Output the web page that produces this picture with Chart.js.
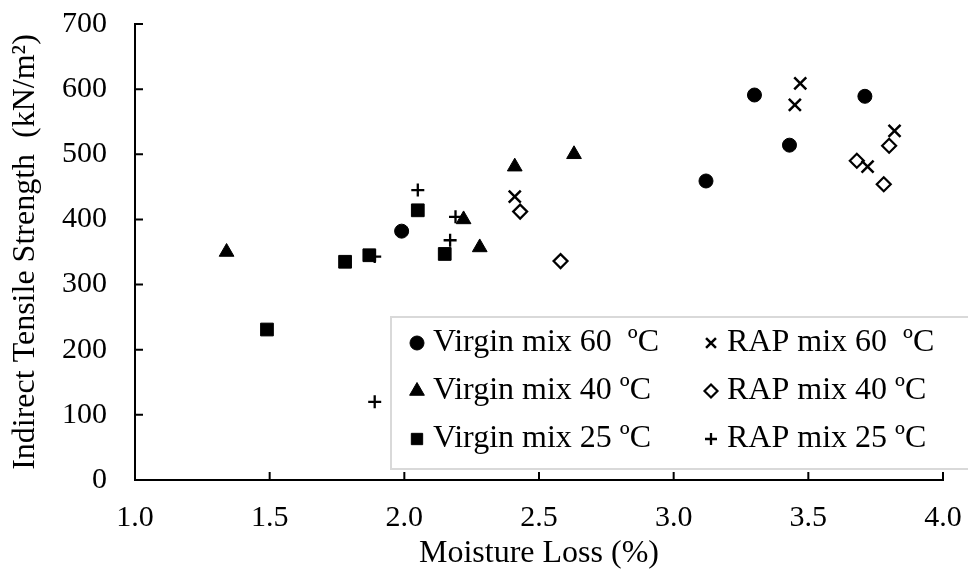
<!DOCTYPE html>
<html>
<head>
<meta charset="utf-8">
<script src="https://cdn.jsdelivr.net/npm/chart.js@4.4.0/dist/chart.umd.min.js"></script>
<style>
  html, body { margin: 0; padding: 0; background: #fff; }
  #wrap { width: 968px; height: 573px; }
</style>
</head>
<body>
<div id="wrap"><canvas id="itsChart" width="968" height="573"></canvas></div>
<script>
// moisture loss (%) against indirect tensile strength, per mix and temperature
const virgin60X = [1.99, 3.12, 3.30, 3.43, 3.71];
const virgin60Y = [382, 459, 591, 514, 589];
const virgin40X = [1.34, 2.22, 2.28, 2.41, 2.63];
const virgin40Y = [350, 400, 357, 481, 500];
const virgin25X = [1.49, 1.78, 1.87, 2.05, 2.15];
const virgin25Y = [231, 335, 345, 414, 347];
const rap60X = [2.41, 3.45, 3.47, 3.72, 3.82];
const rap60Y = [435, 576, 609, 481, 536];
const rap40X = [2.43, 2.58, 3.68, 3.78, 3.80];
const rap40Y = [412, 336, 490, 454, 513];
const rap25X = [1.89, 1.89, 2.05, 2.17, 2.19];
const rap25Y = [120, 343, 445, 368, 404];

const xTicks = [1.0, 1.5, 2.0, 2.5, 3.0, 3.5, 4.0];
const yTicks = [0, 100, 200, 300, 400, 500, 600, 700];

const seriesLabels = [
    'Virgin mix 60  ºC', 'Virgin mix 40 ºC', 'Virgin mix 25 ºC',
    'RAP mix 60  ºC', 'RAP mix 40 ºC', 'RAP mix 25 ºC'
];

const SERIF = '"Liberation Serif", "Times New Roman", serif';

function pairs(xs, ys) {
    return xs.map((x, i) => ({ x: x, y: ys[i] }));
}

// marker look for each series: [style, radius, fill, lineWidth, legend radius]
const markers = [
    ['circle', 7, '#000', 1, 7],
    ['triangle', 8.5, '#000', 1, 8.5],
    ['rect', 9, '#000', 1, 8],
    ['crossRot', 8.5, '#000', 2.5, 7],
    ['rectRot', 7, '#fff', 2.2, 6.5],
    ['cross', 6.5, '#000', 2.3, 6]
];

const seriesData = [
    pairs(virgin60X, virgin60Y), pairs(virgin40X, virgin40Y), pairs(virgin25X, virgin25Y),
    pairs(rap60X, rap60Y), pairs(rap40X, rap40Y), pairs(rap25X, rap25Y)
];

const datasets = seriesData.map((pts, i) => ({
    label: seriesLabels[i],
    data: pts,
    pointStyle: markers[i][0],
    pointRadius: markers[i][1],
    pointBackgroundColor: markers[i][2],
    pointBorderColor: '#000',
    pointBorderWidth: markers[i][3],
    showLine: false
}));

// tick marks pointing into the plot area
const innerTicks = {
    id: 'innerTicks',
    afterDraw(chart) {
        const { ctx, chartArea, scales } = chart;
        ctx.save();
        ctx.strokeStyle = '#000';
        ctx.lineWidth = 2;
        ctx.beginPath();
        xTicks.forEach(v => {
            const px = scales.x.getPixelForValue(v);
            ctx.moveTo(px, chartArea.bottom);
            ctx.lineTo(px, chartArea.bottom - 8);
        });
        yTicks.forEach(v => {
            const py = scales.y.getPixelForValue(v);
            ctx.moveTo(chartArea.left, py);
            ctx.lineTo(chartArea.left + 8, py);
        });
        ctx.stroke();
        ctx.restore();
    }
};

// two column legend inside the lower right of the plot
const boxLegend = {
    id: 'boxLegend',
    afterDraw(chart) {
        const ctx = chart.ctx;
        ctx.save();
        ctx.strokeStyle = '#d9d9d9';
        ctx.lineWidth = 2;
        ctx.strokeRect(391, 317, 640, 152);
        ctx.font = '32px ' + SERIF;
        ctx.textBaseline = 'middle';
        chart.data.datasets.forEach((ds, i) => {
            const col = Math.floor(i / 3);
            const row = i % 3;
            const mx = col ? 711 : 417;
            const my = 343 + row * 48;
            ctx.fillStyle = markers[i][2];
            ctx.strokeStyle = '#000';
            ctx.lineWidth = markers[i][3];
            Chart.helpers.drawPoint(ctx, {
                pointStyle: markers[i][0],
                radius: markers[i][4],
                borderWidth: markers[i][3],
                rotation: 0
            }, mx, my);
            ctx.fillStyle = '#000';
            ctx.fillText(ds.label, mx + 16, my);
        });
        ctx.restore();
    }
};

function initChart() {
    const ctx = document.getElementById('itsChart');
    if (!ctx) return;

    Chart.defaults.font.family = SERIF;
    Chart.defaults.color = '#000';

    new Chart(ctx, {
        type: 'scatter',
        data: { datasets: datasets },
        options: {
            responsive: false,
            devicePixelRatio: 1,
            animation: false,
            events: [],
            layout: { padding: { top: 24, right: 25, bottom: 0, left: 0 } },
            plugins: {
                legend: { display: false },
                tooltip: { enabled: false }
            },
            scales: {
                x: {
                    type: 'linear',
                    min: 1,
                    max: 4,
                    afterBuildTicks: axis => { axis.ticks = xTicks.map(v => ({ value: v })); },
                    afterFit: axis => {
                        axis.height = 93;
                        axis.paddingLeft = 0;
                        axis.paddingRight = 0;
                    },
                    grid: { display: true, drawOnChartArea: false, drawTicks: false },
                    border: { display: true, color: '#000', width: 2 },
                    ticks: {
                        padding: 20,
                        font: { size: 30 },
                        color: '#000',
                        callback: v => Number(v).toFixed(1)
                    },
                    title: {
                        display: true,
                        text: 'Moisture Loss (%)',
                        font: { size: 32 },
                        color: '#000',
                        padding: { top: 0, bottom: 0 }
                    }
                },
                y: {
                    type: 'linear',
                    min: 0,
                    max: 700,
                    afterBuildTicks: axis => { axis.ticks = yTicks.map(v => ({ value: v })); },
                    afterFit: axis => {
                        axis.width = 135;
                        axis.paddingTop = 0;
                        axis.paddingBottom = 0;
                    },
                    grid: { display: true, drawOnChartArea: false, drawTicks: false },
                    border: { display: true, color: '#000', width: 2 },
                    ticks: {
                        padding: 28,
                        font: { size: 30 },
                        color: '#000'
                    },
                    title: {
                        display: true,
                        text: 'Indirect Tensile Strength  (kN/m²)',
                        font: { size: 32 },
                        color: '#000',
                        padding: { top: 6, bottom: 18 }
                    }
                }
            }
        },
        plugins: [innerTicks, boxLegend]
    });
}

document.addEventListener('DOMContentLoaded', () => {
    initChart();
});
</script>
</body>
</html>
